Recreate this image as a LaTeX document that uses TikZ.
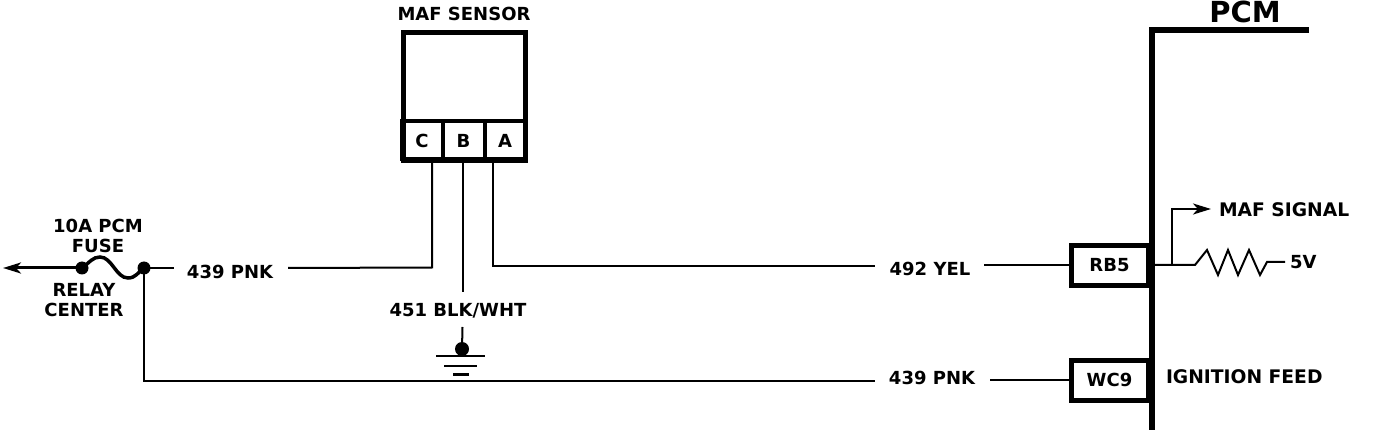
\documentclass[tikz,border=0pt]{standalone}
\usepackage{fontspec}
\setmainfont{DejaVu Sans}
\usetikzlibrary{arrows.meta}
\begin{document}
\begin{tikzpicture}[x=1pt,y=-1pt,
  lbl/.style={font=\bfseries\fontsize{18}{19.5}\selectfont,inner sep=0pt,outer sep=0pt,anchor=center,align=center},
  widelbl/.style={font=\bfseries\fontsize{18.7}{20}\selectfont,inner sep=0pt,outer sep=0pt,anchor=west},
  biglbl/.style={font=\fontsize{29}{31}\selectfont\bfseries,inner sep=0pt,outer sep=0pt},
  thin wire/.style={line width=2pt,line join=miter},
  heavy wire/.style={line width=5.5pt,line join=miter},
  termbox/.style={draw,line width=5pt,inner sep=0pt,outer sep=0pt,minimum width=77pt,minimum height=40pt,font=\bfseries\fontsize{18}{19}\selectfont},
  pinbox/.style={draw,line width=4pt,inner sep=0pt,outer sep=0pt,minimum height=38pt,font=\bfseries\fontsize{18}{19}\selectfont},
  dot/.style={circle,fill,inner sep=0pt,outer sep=0pt,minimum size=13pt},
  spot/.style={circle,fill,inner sep=0pt,outer sep=0pt,minimum size=14pt},
  tip/.style={-{Stealth[length=18pt,width=11pt,inset=5pt]}}]
\useasboundingbox (0,0) rectangle (1376,430);
% sensor
\node[lbl] (maftitle) at (464,14) {MAF SENSOR};
\node[draw,line width=5pt,inner sep=0pt,outer sep=0pt,minimum width=122pt,minimum height=128pt] (sensor) at (464.5,96.5) {};
\node[pinbox,minimum width=41pt] (pinC) at (422,140.5) {C};
\node[pinbox,minimum width=42pt] (pinB) at (463.5,140.5) {B};
\node[pinbox,minimum width=41pt] (pinA) at (505,140.5) {A};
% PCM
\node[biglbl] (pcm) at (1245,12) {PCM};
\coordinate (pcmEnd) at (1309,30);
\coordinate (pcmCorner) at (1152,30);
\coordinate (pcmBottom) at (1152,430);
\draw[heavy wire] (pcmEnd) -- (pcmCorner) -- (pcmBottom);
\node[termbox] (rb5) at (1109.5,265.5) {RB5};
\node[termbox] (wc9) at (1109.5,380) {WC9};
% labels
\node[lbl] (pnkA) at (230,272) {439 PNK};
\node[lbl] (yel) at (930,269) {492 YEL};
\node[lbl] (pnkB) at (932,378) {439 PNK};
\node[lbl] (blk) at (458,311) {451 BLK/WHT};
\node[lbl] (fuselbl) at (98,236) {10A PCM\\FUSE};
\node[lbl] (relay) at (84,300) {RELAY\\CENTER};
\node[widelbl] (sig) at (1219,210) {MAF SIGNAL};
\node[lbl,anchor=west] (fivev) at (1290,262) {5V};
\node[widelbl] (ign) at (1166,377) {IGNITION FEED};
% fuse and relay centre
\node[dot] (fuseL) at (82,268) {};
\node[dot] (fuseR) at (144,268) {};
\coordinate (feed) at (3,268);
\draw[tip,line width=3pt] (fuseL.center) -- (feed);
\draw[line width=3.5pt] (fuseL.center) .. controls (90,262) and (93,257) .. (100,257) .. controls (112,257) and (116,278) .. (128,278) .. controls (136,278) and (138,272) .. (fuseR.center);
% wires
\coordinate (pnkAl) at (174,268);
\coordinate (pnkAr) at (288,268);
\coordinate (cDown) at (432,267.5);
\coordinate (aDown) at (493,266.5);
\coordinate (yelL) at (875,266.5);
\coordinate (yelR) at (984,265);
\coordinate (pnkCorner) at (144,381);
\coordinate (pnkBl) at (875,381);
\coordinate (pnkBr) at (990,380);
\coordinate (bDown) at (462.5,292);
\coordinate (bUp) at (462.5,327);
\draw[thin wire] (fuseR.center) -- (pnkAl);
\draw[thin wire] (pnkAr) -- (cDown) -- (pinC.south -| cDown);
\draw[thin wire] (pinB.south -| bDown) -- (bDown);
\draw[thin wire] (pinA.south -| aDown) -- (aDown) -- (yelL);
\draw[thin wire] (yelR) -- (yelR -| rb5.west);
\draw[thin wire] (fuseR.center) -- (pnkCorner) -- (pnkBl);
\draw[thin wire] (pnkBr) -- (wc9.west);
% ground
\node[spot] (gnd) at (462,349) {};
\draw[thin wire] (bUp) -- (gnd.center);
\draw[line width=2.5pt] (436,356) -- (485,356);
\draw[line width=2.5pt] (444,366) -- (477,366);
\draw[line width=3pt] (453,374) -- (469,374);
% resistor
\coordinate (branch) at (1172,265);
\coordinate (rStart) at (1152,265);
\coordinate (rEnd) at (1285,262);
\draw[thin wire] (rStart) -- (1195,265) -- (1207,250) -- (1218,275) -- (1228,250) -- (1238,275) -- (1249,250) -- (1260,275) -- (1267,262) -- (rEnd);
\draw[line width=2.5pt,tip] (branch) -- (1172,209) -- (1211,209);
\end{tikzpicture}
\end{document}
